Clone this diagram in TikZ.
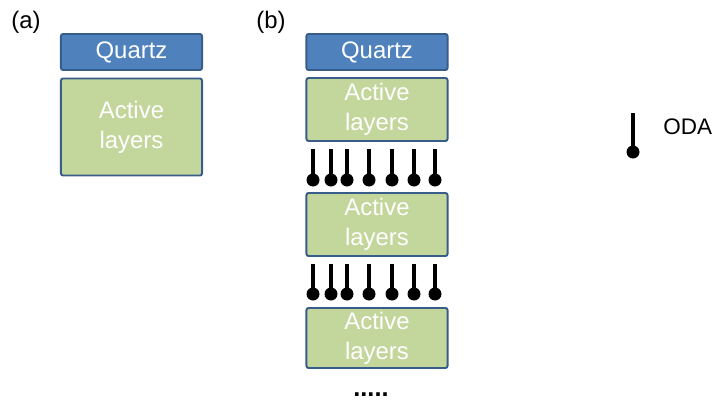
\documentclass[tikz,border=0pt]{standalone}
\usepackage{fontspec}
\setmainfont{Liberation Sans}
\usetikzlibrary{calc}
\definecolor{quartzBlue}{RGB}{79,129,189}
\definecolor{layerGreen}{RGB}{195,214,155}
\definecolor{boxEdge}{RGB}{56,93,138}

\begin{document}
\begin{tikzpicture}[x=0.025cm, y=-0.025cm,
  txt/.style={font=\fontsize{17}{21.3}\selectfont},
  quartz/.style={txt, draw=boxEdge, fill=quartzBlue, line width=1.4pt, rounded corners=1.5pt,
    minimum width=3.525cm, minimum height=0.9cm, text=white, inner sep=0pt},
  active/.style={quartz, fill=layerGreen, align=center},
  stick/.style={line width=2.5pt}]
\useasboundingbox (0,0) rectangle (713,402);
% (a) single film
\node[txt] (lblA) at (26,22) {(a)};
\node[quartz] (quartzA) at (131.5,52) {Quartz};
\node[active, minimum height=2.425cm] (activeA) at (131.5,127) {Active\\layers};
% (b) stacked films
\node[txt] (lblB) at (271,22) {(b)};
\node[quartz] (quartzB) at (377,52) {Quartz};
\node[active, minimum height=1.575cm] (activeB1) at (377,109.5) {Active\\layers};
\node[active, minimum height=1.575cm] (activeB2) at (377,224.5) {Active\\layers};
\node[active, minimum height=1.5cm] (activeB3) at (377,338) {Active\\layers};
\foreach \x in {313,331,347,369,392,414,435}
{
\draw[stick] (\x,149) -- (\x,180);
\fill (\x,180) circle (6.5);
\draw[stick] (\x,264) -- (\x,294);
\fill (\x,294) circle (6.5);
}
\node[font=\fontsize{18}{20}\selectfont\bfseries, anchor=base, inner sep=0pt] (dots) at (371,396) {.....};
% legend
\draw[stick] (633,113) -- (633,152);
\fill (633,152) circle (6.5);
\node[font=\fontsize{16}{20}\selectfont, anchor=west, inner sep=0pt] (oda) at (663,127) {ODA};
\end{tikzpicture}
\end{document}
